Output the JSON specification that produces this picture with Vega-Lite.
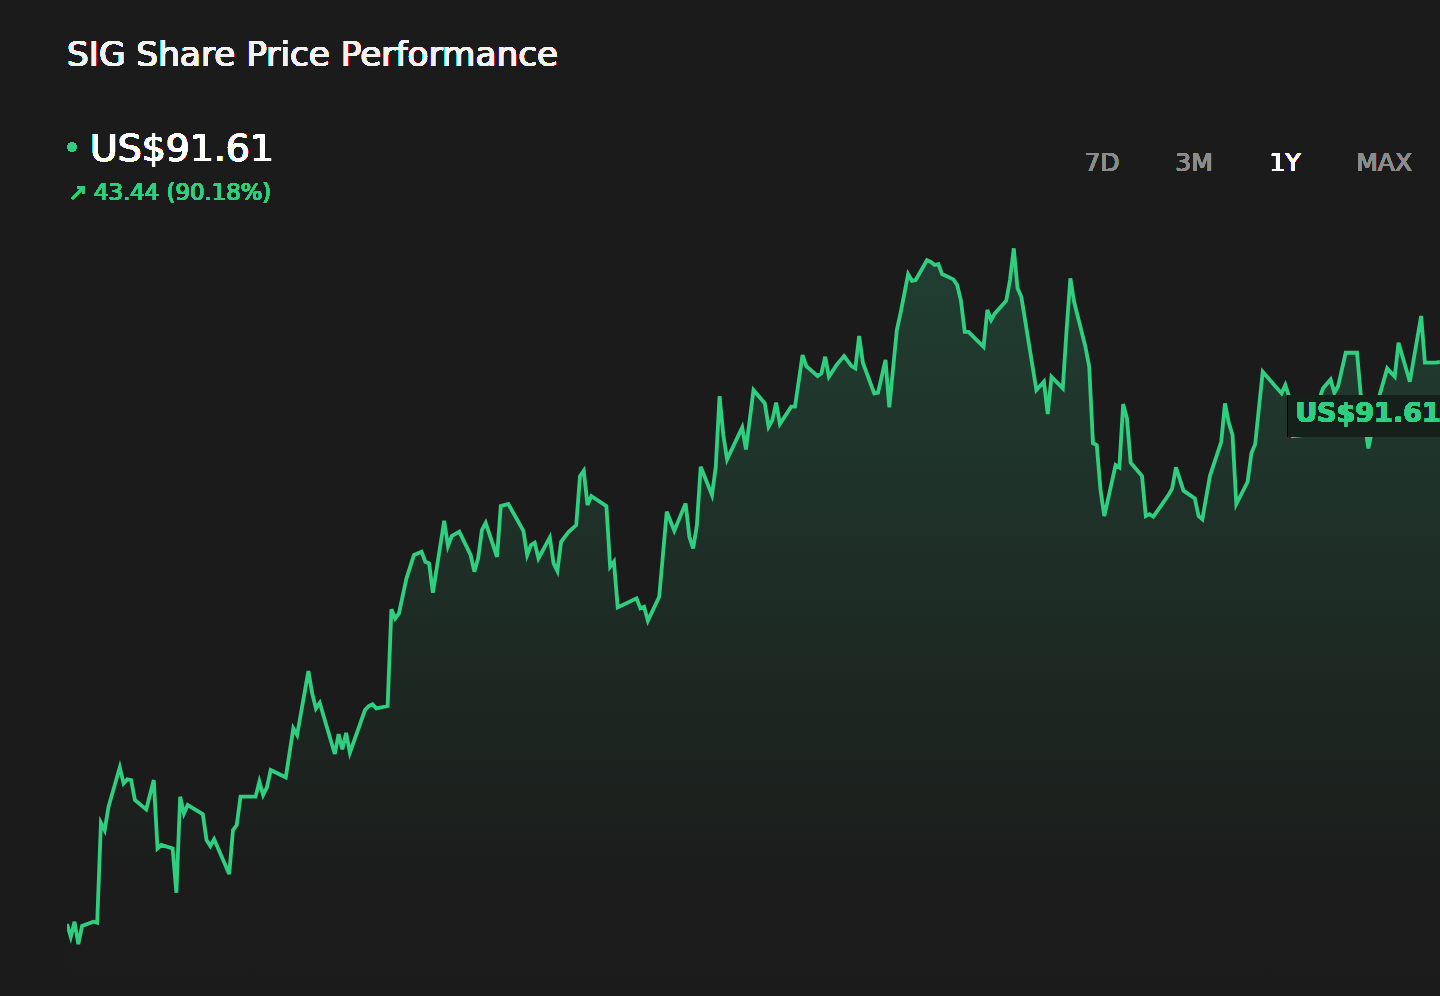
{
  "$schema": "https://vega.github.io/schema/vega-lite/v6.json",
  "width": 1440,
  "height": 996,
  "autosize": {"type": "fit", "contains": "padding"},
  "padding": {"left": 67, "top": 0, "right": 0, "bottom": 0},
  "background": "#1b1b1b",
  "config": {"view": {"stroke": null}, "text": {"font": "DejaVu Sans", "fontWeight": "normal"}},
  "data": {
    "values": [
      {"day": 0, "price": 48.17}, {"day": 1, "price": 47.19}, {"day": 2, "price": 48.35}, {"day": 3, "price": 46.62},
      {"day": 4, "price": 48.02}, {"day": 7, "price": 48.35}, {"day": 8, "price": 48.27}, {"day": 9, "price": 56.0},
      {"day": 10, "price": 55.43}, {"day": 11, "price": 57.23}, {"day": 14, "price": 60.28}, {"day": 15, "price": 59.04},
      {"day": 16, "price": 59.35}, {"day": 17, "price": 59.3}, {"day": 18, "price": 57.75}, {"day": 21, "price": 57.03},
      {"day": 23, "price": 59.3}, {"day": 24, "price": 54.02}, {"day": 25, "price": 54.28}, {"day": 28, "price": 54.02},
      {"day": 29, "price": 50.59}, {"day": 30, "price": 58.01}, {"day": 31, "price": 56.72}, {"day": 32, "price": 57.37},
      {"day": 36, "price": 56.67}, {"day": 37, "price": 54.66}, {"day": 38, "price": 54.2}, {"day": 39, "price": 54.72},
      {"day": 43, "price": 52.03}, {"day": 44, "price": 55.43}, {"day": 45, "price": 55.82}, {"day": 46, "price": 58.01},
      {"day": 50, "price": 58.01}, {"day": 51, "price": 59.17}, {"day": 52, "price": 58.14}, {"day": 53, "price": 58.73},
      {"day": 54, "price": 60.07}, {"day": 58, "price": 59.51}, {"day": 60, "price": 63.29}, {"day": 61, "price": 62.78},
      {"day": 64, "price": 67.72}, {"day": 65, "price": 66.0}, {"day": 66, "price": 64.84}, {"day": 67, "price": 65.27},
      {"day": 71, "price": 61.31}, {"day": 72, "price": 62.85}, {"day": 73, "price": 61.67}, {"day": 74, "price": 62.95},
      {"day": 75, "price": 61.41}, {"day": 79, "price": 64.71}, {"day": 80, "price": 65.02}, {"day": 81, "price": 65.15},
      {"day": 82, "price": 64.84}, {"day": 85, "price": 65.02}, {"day": 86, "price": 72.49}, {"day": 87, "price": 71.79},
      {"day": 88, "price": 72.18}, {"day": 90, "price": 74.89}, {"day": 92, "price": 76.69}, {"day": 94, "price": 76.94},
      {"day": 95, "price": 76.17}, {"day": 96, "price": 76.04}, {"day": 97, "price": 73.77}, {"day": 100, "price": 79.34},
      {"day": 101, "price": 77.38}, {"day": 102, "price": 78.15}, {"day": 104, "price": 78.49}, {"day": 107, "price": 76.69},
      {"day": 108, "price": 75.4}, {"day": 109, "price": 76.43}, {"day": 110, "price": 78.62}, {"day": 111, "price": 79.18},
      {"day": 114, "price": 76.55}, {"day": 115, "price": 80.47}, {"day": 117, "price": 80.63}, {"day": 121, "price": 78.56},
      {"day": 122, "price": 76.69}, {"day": 123, "price": 77.46}, {"day": 124, "price": 77.64}, {"day": 125, "price": 76.43},
      {"day": 128, "price": 78.05}, {"day": 129, "price": 76.04}, {"day": 130, "price": 75.45}, {"day": 131, "price": 77.71},
      {"day": 133, "price": 78.49}, {"day": 135, "price": 79.0}, {"day": 136, "price": 82.79}, {"day": 137, "price": 83.2},
      {"day": 138, "price": 80.55}, {"day": 139, "price": 81.25}, {"day": 143, "price": 80.47}, {"day": 144, "price": 75.78},
      {"day": 145, "price": 76.17}, {"day": 146, "price": 72.64}, {"day": 151, "price": 73.34}, {"day": 152, "price": 72.57},
      {"day": 153, "price": 72.69}, {"day": 154, "price": 71.61}, {"day": 157, "price": 73.46}, {"day": 159, "price": 80.03},
      {"day": 161, "price": 78.56}, {"day": 164, "price": 80.68}, {"day": 165, "price": 78.1}, {"day": 166, "price": 77.2},
      {"day": 167, "price": 79.0}, {"day": 168, "price": 83.51}, {"day": 171, "price": 81.32}, {"day": 172, "price": 83.51},
      {"day": 173, "price": 88.97}, {"day": 174, "price": 85.96}, {"day": 175, "price": 84.08}, {"day": 179, "price": 86.55},
      {"day": 180, "price": 84.85}, {"day": 182, "price": 89.44}, {"day": 185, "price": 88.41}, {"day": 186, "price": 86.6},
      {"day": 187, "price": 87.12}, {"day": 188, "price": 88.46}, {"day": 189, "price": 86.81}, {"day": 192, "price": 88.15},
      {"day": 193, "price": 88.15}, {"day": 195, "price": 92.14}, {"day": 196, "price": 91.29}, {"day": 199, "price": 90.52},
      {"day": 200, "price": 90.73}, {"day": 201, "price": 92.01}, {"day": 202, "price": 90.47}, {"day": 204, "price": 91.37},
      {"day": 206, "price": 92.06}, {"day": 208, "price": 91.29}, {"day": 209, "price": 91.11}, {"day": 210, "price": 93.61},
      {"day": 211, "price": 91.55}, {"day": 214, "price": 89.18}, {"day": 215, "price": 89.23}, {"day": 217, "price": 91.76},
      {"day": 218, "price": 88.1}, {"day": 220, "price": 94.07}, {"day": 221, "price": 95.41}, {"day": 223, "price": 98.4},
      {"day": 224, "price": 97.88}, {"day": 225, "price": 97.94}, {"day": 228, "price": 99.48}, {"day": 229, "price": 99.35},
      {"day": 230, "price": 99.1}, {"day": 231, "price": 99.17}, {"day": 232, "price": 98.4}, {"day": 235, "price": 97.99},
      {"day": 236, "price": 97.55}, {"day": 237, "price": 96.34}, {"day": 238, "price": 93.94}, {"day": 239, "price": 93.94},
      {"day": 243, "price": 92.78}, {"day": 244, "price": 95.62}, {"day": 245, "price": 94.85}, {"day": 246, "price": 95.36},
      {"day": 249, "price": 96.34}, {"day": 250, "price": 97.94}, {"day": 251, "price": 100.39}, {"day": 252, "price": 97.3},
      {"day": 253, "price": 96.65}, {"day": 257, "price": 89.44}, {"day": 259, "price": 90.08}, {"day": 260, "price": 87.58},
      {"day": 261, "price": 90.47}, {"day": 264, "price": 89.57}, {"day": 265, "price": 94.07}, {"day": 266, "price": 98.07},
      {"day": 267, "price": 96.26}, {"day": 270, "price": 92.78}, {"day": 271, "price": 91.24}, {"day": 272, "price": 85.32},
      {"day": 273, "price": 85.19}, {"day": 274, "price": 81.71}, {"day": 275, "price": 79.7}, {"day": 278, "price": 83.64},
      {"day": 279, "price": 83.46}, {"day": 280, "price": 88.36}, {"day": 281, "price": 87.25}, {"day": 282, "price": 83.82},
      {"day": 285, "price": 82.79}, {"day": 286, "price": 79.7}, {"day": 287, "price": 79.85}, {"day": 288, "price": 79.65},
      {"day": 292, "price": 81.32}, {"day": 293, "price": 81.84}, {"day": 294, "price": 83.46}, {"day": 296, "price": 81.66},
      {"day": 299, "price": 81.07}, {"day": 300, "price": 79.7}, {"day": 301, "price": 79.45}, {"day": 303, "price": 82.79},
      {"day": 306, "price": 85.44}, {"day": 307, "price": 88.41}, {"day": 308, "price": 86.91}, {"day": 309, "price": 85.96},
      {"day": 310, "price": 80.63}, {"day": 313, "price": 82.35}, {"day": 314, "price": 84.55}, {"day": 315, "price": 85.26},
      {"day": 317, "price": 90.85}, {"day": 322, "price": 89.18}, {"day": 323, "price": 89.82}, {"day": 324, "price": 88.92},
      {"day": 325, "price": 85.88}, {"day": 328, "price": 85.96}, {"day": 330, "price": 87.12}, {"day": 333, "price": 89.57},
      {"day": 335, "price": 90.26}, {"day": 336, "price": 89.23}, {"day": 337, "price": 89.75}, {"day": 339, "price": 92.32},
      {"day": 342, "price": 92.32}, {"day": 343, "price": 89.05}, {"day": 345, "price": 84.93}, {"day": 348, "price": 89.05},
      {"day": 350, "price": 91.11}, {"day": 352, "price": 90.47}, {"day": 353, "price": 93.09}, {"day": 356, "price": 90.08},
      {"day": 359, "price": 95.16}, {"day": 360, "price": 91.55}, {"day": 363, "price": 91.55}, {"day": 364, "price": 91.61}
    ]
  },
  "encoding": {
    "x": {"field": "day", "type": "quantitative", "scale": {"domain": [0, 364], "nice": false, "zero": false}, "axis": null},
    "y": {"field": "price", "type": "quantitative", "scale": {"domain": [42.61, 119.58], "nice": false, "zero": false}, "axis": null}
  },
  "layer": [
    {
      "mark": {
        "type": "area",
        "clip": true,
        "opacity": 1,
        "color": {
          "gradient": "linear", "x1": 0, "y1": 0, "x2": 0, "y2": 1,
          "stops": [
            {"offset": 0, "color": "#213e31"},
            {"offset": 0.45, "color": "#1e2d26"},
            {"offset": 0.85, "color": "#1b1c1b"},
            {"offset": 1, "color": "#1b1b1b"}
          ]
        }
      },
      "encoding": {"y2": {"datum": 42.61}}
    },
    {
      "mark": {"type": "line", "clip": true, "color": "#2fcf80", "strokeWidth": 3.8, "strokeJoin": "miter"}
    },
    {
      "mark": {"type": "rect", "clip": true, "fill": "#17201c", "opacity": 0.8},
      "encoding": {
        "x": {"datum": 323.7, "type": "quantitative"},
        "x2": {"datum": 364},
        "y": {"datum": 89.05, "type": "quantitative"},
        "y2": {"datum": 85.81}
      }
    },
    {
      "mark": {"type": "text", "clip": true, "font": "DejaVu Sans", "text": "US$91.61", "align": "left", "baseline": "middle", "fontSize": 27, "fontWeight": "bold", "color": "#2fcf80"},
      "encoding": {
        "x": {"datum": 325.6, "type": "quantitative"},
        "y": {"datum": 87.58, "type": "quantitative"}
      }
    },
    {
      "mark": {"type": "text", "clip": true, "font": "DejaVu Sans", "text": "SIG Share Price Performance", "align": "left", "baseline": "middle", "fontSize": 34.3, "color": "#f2f2f2"},
      "encoding": {
        "x": {"datum": 0, "type": "quantitative"},
        "y": {"datum": 115.25, "type": "quantitative"}
      }
    },
    {
      "mark": {"type": "point", "clip": true, "filled": true, "shape": "circle", "size": 80, "color": "#2fcf80", "opacity": 1},
      "encoding": {
        "x": {"datum": 1.33, "type": "quantitative"},
        "y": {"datum": 108.22, "type": "quantitative"}
      }
    },
    {
      "mark": {"type": "text", "clip": true, "font": "DejaVu Sans", "text": "US$91.61", "align": "left", "baseline": "middle", "fontSize": 37.8, "color": "#ffffff"},
      "encoding": {
        "x": {"datum": 6.1, "type": "quantitative"},
        "y": {"datum": 108.0, "type": "quantitative"}
      }
    },
    {
      "mark": {"type": "text", "clip": true, "font": "DejaVu Sans", "text": "↗", "align": "left", "baseline": "middle", "fontSize": 23, "color": "#2fcf80"},
      "encoding": {
        "x": {"datum": 0.4, "type": "quantitative"},
        "y": {"datum": 104.7, "type": "quantitative"}
      }
    },
    {
      "mark": {"type": "text", "clip": true, "font": "DejaVu Sans", "text": "43.44 (90.18%)", "align": "left", "baseline": "middle", "fontSize": 22.8, "color": "#2fcf80"},
      "encoding": {
        "x": {"datum": 7.16, "type": "quantitative"},
        "y": {"datum": 104.7, "type": "quantitative"}
      }
    },
    {
      "mark": {"type": "text", "clip": true, "font": "DejaVu Sans", "text": "7D", "align": "center", "baseline": "middle", "fontSize": 25, "color": "#8c8c8c"},
      "encoding": {"x": {"datum": 274.4, "type": "quantitative"}, "y": {"datum": 107.0, "type": "quantitative"}}
    },
    {
      "mark": {"type": "text", "clip": true, "font": "DejaVu Sans", "text": "3M", "align": "center", "baseline": "middle", "fontSize": 25, "color": "#8c8c8c"},
      "encoding": {"x": {"datum": 298.8, "type": "quantitative"}, "y": {"datum": 107.0, "type": "quantitative"}}
    },
    {
      "mark": {"type": "text", "clip": true, "font": "DejaVu Sans", "text": "1Y", "align": "center", "baseline": "middle", "fontSize": 25, "color": "#ffffff"},
      "encoding": {"x": {"datum": 322.9, "type": "quantitative"}, "y": {"datum": 107.0, "type": "quantitative"}}
    },
    {
      "mark": {"type": "text", "clip": true, "font": "DejaVu Sans", "text": "MAX", "align": "center", "baseline": "middle", "fontSize": 25, "color": "#8c8c8c"},
      "encoding": {"x": {"datum": 349.2, "type": "quantitative"}, "y": {"datum": 107.0, "type": "quantitative"}}
    }
  ]
}
